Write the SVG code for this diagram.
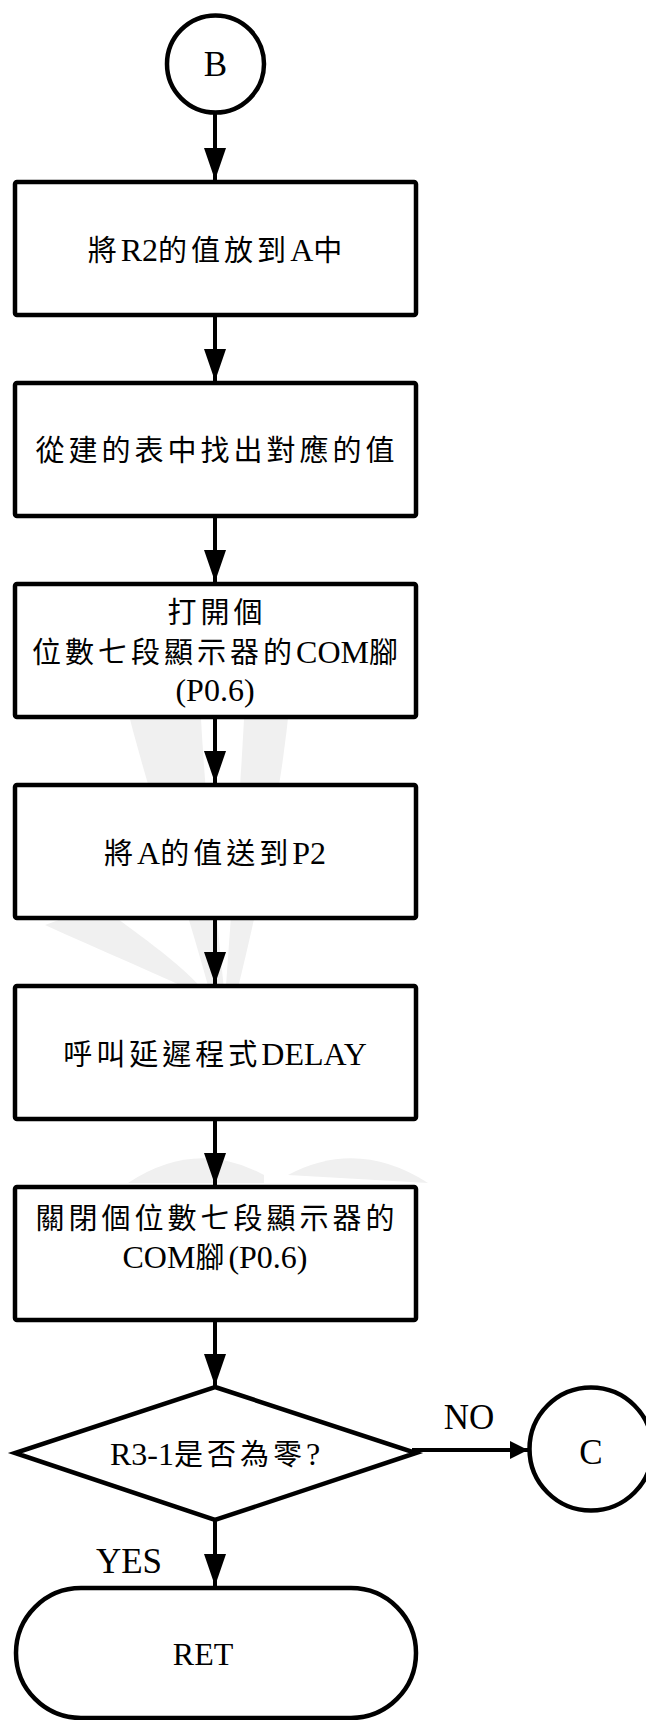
<svg xmlns="http://www.w3.org/2000/svg" width="646" height="1720" viewBox="0 0 646 1720">
<style>
  .shape { fill: #ffffff; stroke: #000000; stroke-width: 4.5; stroke-linejoin: miter; }
  .conn { stroke: #000000; stroke-width: 4; fill: none; }
  .wm { fill: #f0f0f0; stroke: none; }
  text { font-family: "Liberation Serif", "Noto Sans CJK TC", serif; font-size: 32px; fill: #000000; }
  .c { font-family: "Noto Sans CJK TC", "Liberation Serif", sans-serif; font-size: 29px; letter-spacing: 4px; }
  .big { font-size: 35px; }
</style>
<defs>
  <marker id="ah" markerUnits="userSpaceOnUse" markerWidth="32" markerHeight="22" refX="32" refY="11" orient="auto">
    <path d="M0,0 L32,11 L0,22 Z" fill="#000000"/>
  </marker>
  <marker id="ahs" markerUnits="userSpaceOnUse" markerWidth="18" markerHeight="18" refX="18" refY="9" orient="auto">
    <path d="M0,0 L18,9 L0,18 Z" fill="#000000"/>
  </marker>
</defs>
<rect x="0" y="0" width="646" height="1720" fill="#ffffff"/>

<g id="watermark">
  <path class="wm" d="M125 700 C150 800 185 900 212 1000 L225 1000 C215 900 205 800 200 700 Z"/>
  <path class="wm" d="M245 700 C240 800 232 900 225 1000 L235 1000 C260 900 280 800 290 700 Z"/>
  <path class="wm" d="M45 925 C100 950 160 975 212 1000 C180 960 130 930 100 905 Z"/>
  <path class="wm" d="M128 1183 Q196 1138 264 1175 L264 1183 Z"/>
  <path class="wm" d="M288 1175 Q358 1138 428 1183 Z"/>
</g>

<g id="connectors">
  <line class="conn" x1="215" y1="113" x2="215" y2="180" marker-end="url(#ah)"/>
  <line class="conn" x1="215" y1="315" x2="215" y2="381" marker-end="url(#ah)"/>
  <line class="conn" x1="215" y1="516" x2="215" y2="582" marker-end="url(#ah)"/>
  <line class="conn" x1="215" y1="717" x2="215" y2="783" marker-end="url(#ah)"/>
  <line class="conn" x1="215" y1="918" x2="215" y2="984" marker-end="url(#ah)"/>
  <line class="conn" x1="215" y1="1119" x2="215" y2="1185" marker-end="url(#ah)"/>
  <line class="conn" x1="215" y1="1320" x2="215" y2="1386" marker-end="url(#ah)"/>
  <line class="conn" x1="215" y1="1520" x2="215" y2="1586" marker-end="url(#ah)"/>
  <line class="conn" x1="412" y1="1450" x2="528" y2="1450" stroke-width="5" marker-end="url(#ahs)"/>
</g>

<g id="nodeB">
  <circle class="shape" cx="215.5" cy="64" r="48.5"/>
  <text class="big" x="215.5" y="76" text-anchor="middle">B</text>
</g>

<g id="box1">
  <rect class="shape" x="15" y="182" width="401" height="133" rx="2"/>
  <text x="217" y="261" text-anchor="middle"><tspan class="c">將</tspan>R2<tspan class="c">的值放到</tspan>A<tspan class="c">中</tspan></text>
</g>

<g id="box2">
  <rect class="shape" x="15" y="383" width="401" height="133" rx="2"/>
  <text x="217" y="461" text-anchor="middle"><tspan class="c">從建的表中找出對應的值</tspan></text>
</g>

<g id="box3">
  <rect class="shape" x="15" y="584" width="401" height="133" rx="2"/>
  <text x="217" y="623" text-anchor="middle"><tspan class="c">打開個</tspan></text>
  <text x="217" y="663" text-anchor="middle"><tspan class="c">位數七段顯示器的</tspan>COM<tspan class="c">腳</tspan></text>
  <text x="215" y="701" text-anchor="middle">(P0.6)</text>
</g>

<g id="box4">
  <rect class="shape" x="15" y="785" width="401" height="133" rx="2"/>
  <text x="215" y="864" text-anchor="middle"><tspan class="c">將</tspan>A<tspan class="c">的值送到</tspan>P2</text>
</g>

<g id="box5">
  <rect class="shape" x="15" y="986" width="401" height="133" rx="2"/>
  <text x="215" y="1065" text-anchor="middle"><tspan class="c">呼叫延遲程式</tspan>DELAY</text>
</g>

<g id="box6">
  <rect class="shape" x="15" y="1187" width="401" height="133" rx="2"/>
  <text x="217" y="1229" text-anchor="middle"><tspan class="c">關閉個位數七段顯示器的</tspan></text>
  <text x="215" y="1268" text-anchor="middle">COM<tspan class="c">腳</tspan>(P0.6)</text>
</g>

<g id="decision">
  <polygon class="shape" points="215,1387 416,1453 215,1520 15,1453"/>
  <text x="215" y="1465" text-anchor="middle">R3-1<tspan class="c">是否為零</tspan>?</text>
</g>

<g id="labels">
  <text class="big" x="469" y="1429" text-anchor="middle">NO</text>
  <text class="big" x="129" y="1573" text-anchor="middle">YES</text>
</g>

<g id="nodeC">
  <circle class="shape" cx="591" cy="1449" r="61.5"/>
  <text class="big" x="591" y="1464" text-anchor="middle">C</text>
</g>

<g id="ret">
  <rect class="shape" x="16" y="1588" width="400" height="130" rx="65" ry="65"/>
  <text x="203" y="1665" text-anchor="middle">RET</text>
</g>
</svg>
